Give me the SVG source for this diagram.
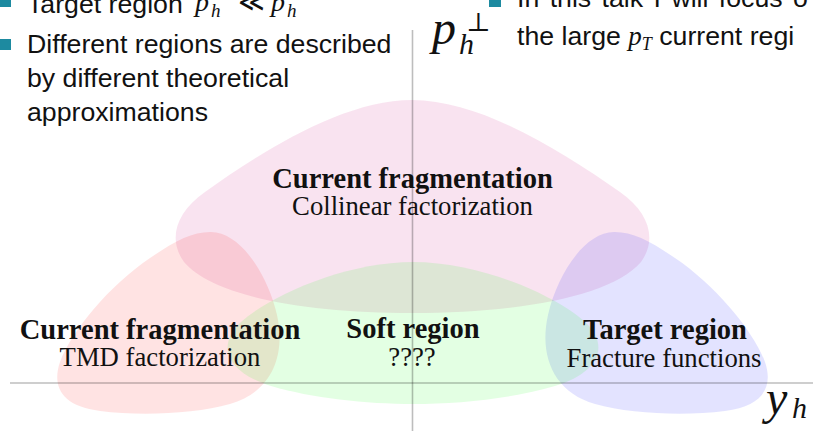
<svg xmlns="http://www.w3.org/2000/svg" width="813" height="431" viewBox="0 0 813 431">
<style>
.bul{fill:#1d8aa0}
.st{font-family:"Liberation Sans",Arial,sans-serif;font-size:26.7px;fill:#111}
.mi{font-family:"Liberation Serif","Times New Roman",serif;font-style:italic;fill:#111}
.hd{font-family:"Liberation Serif","Times New Roman",serif;font-weight:bold;font-size:28.5px;fill:#111;text-anchor:middle}
.sb{font-family:"Liberation Serif","Times New Roman",serif;font-size:26.7px;fill:#111;text-anchor:middle}
.axis{stroke:#000;stroke-opacity:0.26;stroke-width:1.6;fill:none}
</style>
<g id="bullets">
<rect class="bul" x="0" y="-4" width="11" height="11"/>
<text class="st" x="27" y="13">Target region</text>
<text class="mi" x="195" y="11" font-size="28">p</text>
<text class="mi" x="211" y="17" font-size="19">h</text>
<text class="mi" x="236" y="11" font-size="27" font-style="normal">≪</text>
<text class="mi" x="271" y="11" font-size="28">p</text>
<text class="mi" x="287" y="17" font-size="19">h</text>
<rect class="bul" x="0" y="39" width="11" height="11"/>
<text class="st" x="27" y="53">Different regions are described</text>
<text class="st" x="27" y="87">by different theoretical</text>
<text class="st" x="27" y="121">approximations</text>
<rect class="bul" x="489" y="-4" width="12" height="11"/>
<text class="st" x="517" y="7" word-spacing="3">In this talk I will focus o</text>
<text class="st" x="517" y="45">the large <tspan class="mi" font-size="27">p</tspan><tspan class="mi" font-size="18" dy="5">T</tspan><tspan dy="-5"> current regi</tspan></text>
</g>
<g id="region-pink">
<path d="M412,100 C480,100 560,150 620,192 C650,213 657,240 641,262 C612,296 520,313 412,313 C304,313 213,296 184,262 C168,240 175,213 205,192 C264,150 344,100 412,100 Z" fill="#c8007a" fill-opacity="0.11"/>
</g>
<g id="region-red">
<path d="M210,232 C240,231 268,275 277,315 C286,355 272,392 230,404 C195,414 140,416 100,411 C60,406 52,385 60,362 C72,330 110,285 150,258 C175,241 192,232 210,232 Z" fill="#ff0000" fill-opacity="0.11"/>
</g>
<g id="region-blue">
<path d="M615,232 C585,231 557,275 548,315 C539,355 553,392 595,404 C630,414 685,416 725,411 C765,406 773,385 765,362 C753,330 715,285 675,258 C650,241 633,232 615,232 Z" fill="#0000ff" fill-opacity="0.11"/>
</g>
<g id="region-green">
<path d="M413,262 C480,262 555,295 585,322 C610,345 600,372 555,386 C515,398 460,404 413,404 C366,404 311,398 271,386 C226,372 216,345 241,322 C271,295 346,262 413,262 Z" fill="#00ff00" fill-opacity="0.11"/>
</g>
<g id="axes">
<line class="axis" x1="10" y1="383" x2="813" y2="383"/>
<line class="axis" x1="412.5" y1="30" x2="412.5" y2="431"/>
<text class="mi" x="432" y="44" font-size="48">p</text>
<text class="mi" x="459" y="54" font-size="30">h</text>
<text x="466" y="31" font-family="'DejaVu Serif',serif" font-size="26" fill="#111">⊥</text>
<text class="mi" x="766" y="414" font-size="48">y</text>
<text class="mi" x="792" y="418" font-size="30">h</text>
</g>
<g id="labels">
<g id="label-collinear">
<text class="hd" x="412.5" y="188">Current fragmentation</text>
<text class="sb" x="412.5" y="215">Collinear factorization</text>
</g>
<g id="label-tmd">
<text class="hd" x="160" y="339">Current fragmentation</text>
<text class="sb" x="160" y="366">TMD factorization</text>
</g>
<g id="label-soft">
<text class="hd" x="413" y="338">Soft region</text>
<text class="sb" x="412" y="366">????</text>
</g>
<g id="label-target">
<text class="hd" x="665" y="339">Target region</text>
<text class="sb" x="664" y="367">Fracture functions</text>
</g>
</g>
</svg>
